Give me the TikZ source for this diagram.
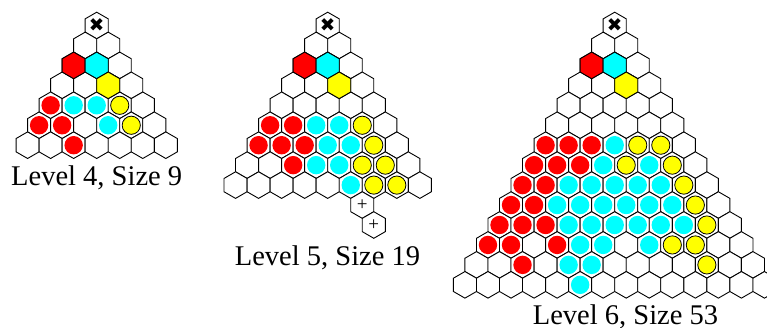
\documentclass[tikz,border=0pt]{standalone}
\usepackage{fontspec}
\setmainfont{Liberation Serif}
\newfontfamily\symfont{DejaVu Sans}
\definecolor{hred}{RGB}{255,0,0}
\definecolor{hcyan}{RGB}{0,255,255}
\definecolor{hyellow}{RGB}{255,255,0}
\tikzset{
  hexcell/.pic={\path[pic actions] (0,-13.3) -- (11.52,-6.65) -- (11.52,6.65) -- (0,13.3) -- (-11.52,6.65) -- (-11.52,-6.65) -- cycle;},
  hexline/.style={draw=black, line width=0.9pt, line join=miter},
  redcirc/.style={fill=hred},
  cyancirc/.style={fill=hcyan},
  yellowcirc/.style={fill=hyellow, draw=black, line width=0.8pt},
  xmark/.style={font=\symfont\fontsize{18.5}{18.5}\selectfont, inner sep=0pt},
  plusmark/.style={font=\fontsize{19}{19}\selectfont, inner sep=0pt},
  caption/.style={font=\fontsize{28.5}{34}\selectfont, inner sep=0pt, anchor=base},
}
\begin{document}
\begin{tikzpicture}[x=1pt,y=-1pt]
\clip (0,0) rectangle (767,328);
\fill[white] (0,0) rectangle (767,328);

% ---------- Level 4 ----------
\begin{scope}[shift={(96.7,25.5)}]
\foreach \r in {0,...,6}{\foreach \k in {0,...,\r}{\pic[hexline,fill=white] at (\k*23.04-\r*11.52,\r*19.95) {hexcell};}}
\pic[hexline,fill=hred] at (0*23.04-2*11.52,2*19.95) {hexcell};
\pic[hexline,fill=hcyan] at (1*23.04-2*11.52,2*19.95) {hexcell};
\pic[hexline,fill=hyellow] at (2*23.04-3*11.52,3*19.95) {hexcell};
\foreach \r/\k in {4/0,5/0,5/1,6/2} \path[redcirc] (\k*23.04-\r*11.52,\r*19.95) circle[radius=9.2pt];
\foreach \r/\k in {4/1,4/2,5/3} \path[cyancirc] (\k*23.04-\r*11.52,\r*19.95) circle[radius=9.2pt];
\foreach \r/\k in {4/3,5/4} \path[yellowcirc] (\k*23.04-\r*11.52,\r*19.95) circle[radius=9.1pt];
\node[xmark] (t1x) at (0,0) {✖};
\end{scope}
\node[caption] (t1cap) at (96.7,185.7) {Level 4, Size 9};

% ---------- Level 5 ----------
\begin{scope}[shift={(327.7,25.5)}]
\foreach \r in {0,...,8}{\foreach \k in {0,...,\r}{\pic[hexline,fill=white] at (\k*23.04-\r*11.52,\r*19.95) {hexcell};}}
\pic[hexline,fill=white] at (6*23.04-9*11.52,9*19.95) {hexcell};
\pic[hexline,fill=white] at (7*23.04-10*11.52,10*19.95) {hexcell};
\pic[hexline,fill=hred] at (0*23.04-2*11.52,2*19.95) {hexcell};
\pic[hexline,fill=hcyan] at (1*23.04-2*11.52,2*19.95) {hexcell};
\pic[hexline,fill=hyellow] at (2*23.04-3*11.52,3*19.95) {hexcell};
\foreach \r/\k in {5/0,5/1,6/0,6/1,6/2,7/2} \path[redcirc] (\k*23.04-\r*11.52,\r*19.95) circle[radius=9.2pt];
\foreach \r/\k in {5/2,5/3,6/3,6/4,7/3,7/4,8/5} \path[cyancirc] (\k*23.04-\r*11.52,\r*19.95) circle[radius=9.2pt];
\foreach \r/\k in {5/4,6/5,7/5,7/6,8/6,8/7} \path[yellowcirc] (\k*23.04-\r*11.52,\r*19.95) circle[radius=9.1pt];
\node[xmark] (t2x) at (0,0) {✖};
\node[plusmark] (t2p1) at (6*23.04-9*11.52,9*19.95) {+};
\node[plusmark] (t2p2) at (7*23.04-10*11.52,10*19.95) {+};
\end{scope}
\node[caption] (t2cap) at (327.5,265.7) {Level 5, Size 19};

% ---------- Level 6 ----------
\begin{scope}[shift={(614.7,25.5)}]
\foreach \r in {0,...,13}{\foreach \k in {0,...,\r}{\pic[hexline,fill=white] at (\k*23.04-\r*11.52,\r*19.95) {hexcell};}}
\pic[hexline,fill=hred] at (0*23.04-2*11.52,2*19.95) {hexcell};
\pic[hexline,fill=hcyan] at (1*23.04-2*11.52,2*19.95) {hexcell};
\pic[hexline,fill=hyellow] at (2*23.04-3*11.52,3*19.95) {hexcell};
\foreach \r/\k in {6/0,6/1,6/2,7/0,7/1,7/2,8/0,8/1,9/0,9/1,10/0,10/1,10/2,11/0,11/1,11/3,12/2}
  \path[redcirc] (\k*23.04-\r*11.52,\r*19.95) circle[radius=9.2pt];
\foreach \r/\k in {6/3,7/3,7/5,8/2,8/3,8/4,8/5,8/6,9/2,9/3,9/4,9/5,9/6,9/7,10/3,10/4,10/5,10/6,10/7,10/8,11/4,11/5,11/7,12/4,12/5,13/5}
  \path[cyancirc] (\k*23.04-\r*11.52,\r*19.95) circle[radius=9.2pt];
\foreach \r/\k in {6/4,6/5,7/4,7/6,8/7,9/8,10/9,11/8,11/9,12/10}
  \path[yellowcirc] (\k*23.04-\r*11.52,\r*19.95) circle[radius=9.1pt];
\node[xmark] (t3x) at (0,0) {✖};
\end{scope}
\node[caption] (t3cap) at (625.5,324) {Level 6, Size 53};
\end{tikzpicture}
\end{document}
